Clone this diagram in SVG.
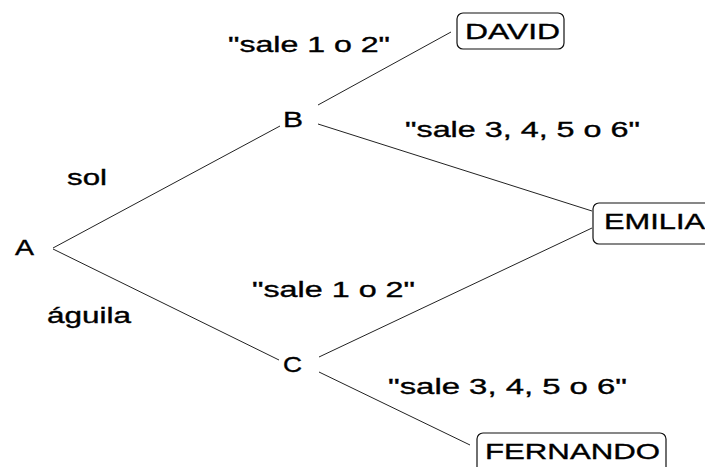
<svg xmlns="http://www.w3.org/2000/svg" width="705" height="467" viewBox="0 0 705 467">
<style>
text{font-family:"Liberation Sans",Arial,sans-serif;font-size:21.5px;fill:#000;stroke:#000;stroke-width:0.35}
.box{fill:#fff;stroke:#111;stroke-width:1.2}
.edge{stroke:#222;stroke-width:1;fill:none}
</style>
<rect width="705" height="467" fill="#fff"/>
<g id="connectors">
<line class="edge" x1="53" y1="248" x2="280" y2="126"/>
<line class="edge" x1="53" y1="249" x2="279" y2="360"/>
<line class="edge" x1="318" y1="105" x2="451" y2="32"/>
<line class="edge" x1="318" y1="124" x2="592" y2="211"/>
<line class="edge" x1="319" y1="357" x2="592" y2="228"/>
<line class="edge" x1="319" y1="372" x2="470" y2="445"/>
</g>
<g id="labels">
<text x="228" y="52" textLength="162" lengthAdjust="spacingAndGlyphs">"sale 1 o 2"</text>
<text x="405" y="137" textLength="235" lengthAdjust="spacingAndGlyphs">"sale 3, 4, 5 o 6"</text>
<text x="67" y="185" textLength="40" lengthAdjust="spacingAndGlyphs">sol</text>
<text x="47" y="323" textLength="84" lengthAdjust="spacingAndGlyphs">águila</text>
<text x="252" y="297" textLength="163" lengthAdjust="spacingAndGlyphs">"sale 1 o 2"</text>
<text x="388" y="394" textLength="239" lengthAdjust="spacingAndGlyphs">"sale 3, 4, 5 o 6"</text>
</g>
<g id="A"><text x="15" y="255" textLength="19" lengthAdjust="spacingAndGlyphs">A</text></g>
<g id="B"><text x="283" y="127" textLength="20" lengthAdjust="spacingAndGlyphs">B</text></g>
<g id="C"><text x="283" y="372" textLength="19" lengthAdjust="spacingAndGlyphs">C</text></g>
<g id="DAVID">
<rect class="box" x="457" y="13" width="107" height="36" rx="6"/>
<text x="465" y="39" textLength="95" lengthAdjust="spacingAndGlyphs">DAVID</text>
</g>
<g id="EMILIA">
<rect class="box" x="593" y="203" width="125" height="41" rx="6"/>
<text x="604" y="229" textLength="101" lengthAdjust="spacingAndGlyphs">EMILIA</text>
</g>
<g id="FERNANDO">
<rect class="box" x="477" y="433" width="189" height="42" rx="6"/>
<text x="485" y="459" textLength="175" lengthAdjust="spacingAndGlyphs">FERNANDO</text>
</g>
</svg>
